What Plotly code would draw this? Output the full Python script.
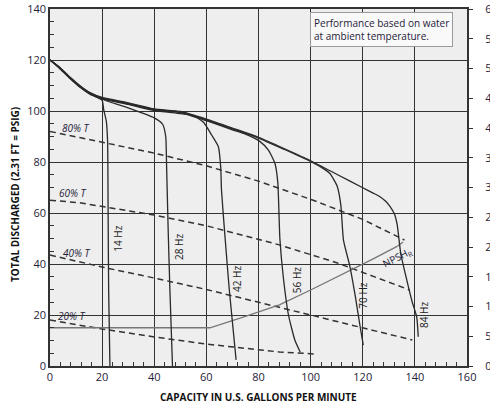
import plotly.graph_objects as go

# ---- data ----
hz14_x = [0, 3.8, 7.7, 11.5, 15.3, 20.0, 20.6, 21.6, 22.1, 22.3, 22.5, 23.0]
hz14_y = [120, 116.6, 112.7, 109.3, 106.6, 104.2, 100.5, 96.0, 88, 60, 30, 0]

hz28_x = [0, 3.8, 7.7, 11.5, 15.3, 20, 30, 40, 43.2, 44.4, 44.7, 45.3, 46.0, 47.0]
hz28_y = [120, 116.7, 112.8, 109.5, 106.8, 104.6, 101.2, 97.3, 94.8, 90, 80, 55, 30, 0]

hz42_x = [0, 3.8, 7.7, 11.5, 15.3, 20, 30, 40, 50, 55, 59, 62, 64.6, 65.5, 65.8, 67.2, 68.8, 71.4]
hz42_y = [120, 116.8, 112.9, 109.6, 106.9, 104.8, 102.6, 100.2, 99.0, 98.2, 95.5, 90.6, 86, 78, 69, 50, 29.8, 2.4]

hz56_x = [0, 3.8, 7.7, 11.5, 15.3, 20, 30, 40, 50, 60, 70, 75, 80.6, 83.8, 86.3, 87.4, 88.2, 89.5, 91.5, 94.0, 96.0]
hz56_y = [120, 116.9, 113.0, 109.7, 107.0, 105.0, 102.8, 100.4, 99.4, 96.2, 92.6, 90.9, 88.0, 84.7, 79.5, 72, 50, 35, 20, 10, 5.5]

hz70_x = [0, 3.8, 7.7, 11.5, 15.3, 20, 30, 40, 50, 60, 70, 80, 90, 100, 104, 107.4, 110.2, 111.6, 112.6, 115.1, 117.2, 119.0, 120.2]
hz70_y = [120, 117.0, 113.1, 109.8, 107.1, 105.1, 103.0, 100.6, 99.6, 96.5, 93.0, 89.4, 84.9, 80.2, 78.0, 75.5, 70.5, 63, 49.4, 38.9, 27, 15.4, 8.2]

hz84_x = [0, 3.8, 7.7, 11.5, 15.3, 20, 30, 40, 50, 60, 70, 80, 90, 100, 110, 120, 124, 126.6, 128.8, 130.5, 132.2, 133.2, 134.6, 136.9, 139.0, 140.7, 141.3]
hz84_y = [120, 117.1, 113.2, 109.9, 107.2, 105.3, 103.2, 100.8, 99.8, 96.8, 93.3, 89.7, 85.2, 80.5, 75.2, 69.9, 67.8, 66.4, 64.6, 62.5, 59.5, 55.5, 44, 33.7, 25, 19.3, 11.5]

hz_labels = ["14 Hz", "28 Hz", "42 Hz", "56 Hz", "70 Hz", "84 Hz"]
hz_label_x = [26.0, 49.5, 72.0, 94.8, 120.0, 143.5]
hz_label_y = [49.8, 46.7, 34.0, 33.7, 27.5, 20.0]

eff80_x = [0, 20, 40, 60, 80, 101, 120, 136]
eff80_y = [92, 87.8, 83.5, 78.5, 72.5, 65, 57.5, 49.4]
eff60_x = [0, 11.5, 40, 60, 88, 110, 138]
eff60_y = [65, 64, 59.2, 55, 47.5, 40.5, 29.8]
eff40_x = [0, 11.5, 20, 40, 60, 88, 110, 139]
eff40_y = [43.5, 40.8, 38.8, 34.5, 30.0, 23, 17.5, 10.2]
eff20_x = [0, 20, 40, 60, 88, 102]
eff20_y = [18, 14.5, 11.4, 8.6, 5.5, 4.7]
eff_labels = ["80% T", "60% T", "40% T", "20% T"]
eff_label_x = [10.0, 8.8, 10.4, 8.5]
eff_label_y = [93.3, 67.8, 44.3, 19.6]

npsh_x = [0, 61.4, 75, 88, 100, 112, 124, 133, 135.5]
npsh_y = [15, 15, 19.5, 24, 29.8, 35.8, 42, 46.8, 48.6]
npsh_label = "NPSH<sub>R</sub>"
npsh_label_x = 133.3
npsh_label_y = 42.4

x_ticks = [0, 20, 40, 60, 80, 100, 120, 140, 160]
y_ticks = [0, 20, 40, 60, 80, 100, 120, 140]
psi_ticks = [0, 5, 10, 15, 20, 25, 30, 35, 40, 45, 50, 55, 60]

note_text = "Performance based on water<br>at ambient temperature."
x_title = "CAPACITY IN U.S. GALLONS PER MINUTE"
y_title = "TOTAL DISCHARGED (2.31 FT = PSIG)"

FONT = "Open Sans"
INK = "#333333"
TXT = "#1f2238"

fig = go.Figure()

for xs, ys in [(eff80_x, eff80_y), (eff60_x, eff60_y), (eff40_x, eff40_y), (eff20_x, eff20_y)]:
    fig.add_trace(go.Scatter(x=xs, y=ys, mode="lines", hoverinfo="skip", showlegend=False,
                             line=dict(color=INK, width=1.5, dash="6px,4px")))

fig.add_trace(go.Scatter(x=npsh_x, y=npsh_y, mode="lines", hoverinfo="skip", showlegend=False,
                         line=dict(color="#777777", width=1.3)))

for xs, ys in [(hz14_x, hz14_y), (hz28_x, hz28_y), (hz42_x, hz42_y),
               (hz56_x, hz56_y), (hz70_x, hz70_y), (hz84_x, hz84_y)]:
    fig.add_trace(go.Scatter(x=xs, y=ys, mode="lines", hoverinfo="skip", showlegend=False,
                             line=dict(color="#2a2a2a", width=1.3, shape="spline", smoothing=0.5)))

fig.add_trace(go.Scatter(x=[0], y=[0], yaxis="y2", mode="markers", marker=dict(opacity=0),
                         hoverinfo="skip", showlegend=False))

# plot area is 417 x 357 px
annotations = []
for t, x, y in zip(hz_labels, hz_label_x, hz_label_y):
    annotations.append(dict(x=x, y=y, xref="x", yref="y", text=t, showarrow=False, textangle=-90,
                            font=dict(family=FONT, size=10, color="#222222")))
for t, x, y in zip(eff_labels, eff_label_x, eff_label_y):
    annotations.append(dict(x=x, y=y, xref="x", yref="y", text="<i>" + t + "</i>", showarrow=False,
                            font=dict(family=FONT, size=10, color=TXT)))
annotations.append(dict(x=npsh_label_x, y=npsh_label_y, xref="x", yref="y", text=npsh_label,
                        showarrow=False, textangle=-27, font=dict(family=FONT, size=10, color=TXT)))
annotations.append(dict(x=260 / 417, y=354 / 357, xref="paper", yref="paper",
                        xanchor="left", yanchor="top", align="left", text=note_text, showarrow=False,
                        bgcolor="#f9f9f9", bordercolor="#9a9a9a", borderwidth=1, borderpad=3,
                        font=dict(family=FONT, size=10, color=TXT)))
annotations.append(dict(x=0.5, y=-31 / 357, xref="paper", yref="paper", xanchor="center",
                        yanchor="middle", text="<b>" + x_title + "</b>", showarrow=False,
                        font=dict(family=FONT, size=10, color="#111111")))
annotations.append(dict(x=-35 / 417, y=171 / 357, xref="paper", yref="paper", xanchor="center",
                        yanchor="middle", text="<b>" + y_title + "</b>", showarrow=False, textangle=-90,
                        font=dict(family=FONT, size=10, color="#111111")))

fig.update_layout(
    width=490, height=409,
    margin=dict(l=50, r=23, t=9, b=43, autoexpand=False),
    paper_bgcolor="white", plot_bgcolor="#eeeeee",
    font=dict(family=FONT, size=11, color=TXT),
    annotations=annotations,
    xaxis=dict(range=[0, 160], tickvals=x_ticks, showgrid=True, gridcolor=INK, gridwidth=1,
               showline=True, linecolor=INK, linewidth=1.5, mirror=True, zeroline=False,
               ticks="inside", ticklen=4, tickcolor=INK, automargin=False,
               minor=dict(dtick=4, ticks="inside", ticklen=4, tickcolor=INK, showgrid=False),
               tickfont=dict(family=FONT, size=11, color=TXT), fixedrange=True),
    yaxis=dict(range=[0, 140], tickvals=y_ticks, showgrid=True, gridcolor=INK, gridwidth=1,
               showline=True, linecolor=INK, linewidth=1.5, mirror=True, zeroline=False,
               ticks="inside", ticklen=4, tickcolor=INK, automargin=False,
               minor=dict(dtick=5, ticks="inside", ticklen=4, tickcolor=INK, showgrid=False),
               tickfont=dict(family=FONT, size=11, color=TXT), fixedrange=True),
    yaxis2=dict(range=[0, 60], tickvals=psi_ticks, overlaying="y", side="right", showgrid=False,
                zeroline=False, showline=False, ticks="outside", ticklen=5, tickcolor=INK,
                automargin=False,
                ticklabelstandoff=10, tickfont=dict(family=FONT, size=11, color=TXT), fixedrange=True),
)

fig.write_html("out.html", config=dict(displayModeBar=False),
               post_script="document.body.style.margin='0';document.body.style.overflow='hidden';")
